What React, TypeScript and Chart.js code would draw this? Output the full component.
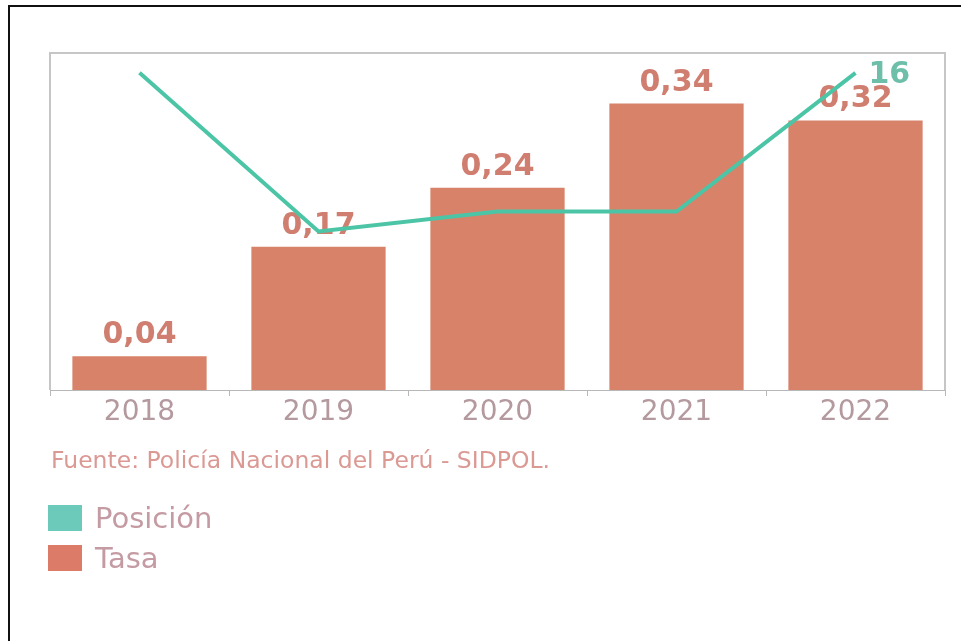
import React, { useEffect, useRef } from "react";
import { Chart, registerables } from "chart.js";

Chart.register(...registerables);

// ---- data ----
const years: string[] = ["2018", "2019", "2020", "2021", "2022"];
const tasa: number[] = [0.04, 0.17, 0.24, 0.34, 0.32];
const posicion: number[] = [16, 8, 9, 9, 16];
const posicionLabelled: number[] = [4]; // only the last point carries a label
const seriesNames: string[] = ["Posición", "Tasa"];
const sourceText = "Fuente: Policía Nacional del Perú - SIDPOL.";

const FONT = "'DejaVu Sans', 'Liberation Sans', Arial, sans-serif";

const fmt = (v: number) => v.toFixed(2).replace(".", ",");

const decorPlugin = {
  id: "decor",
  beforeDatasetsDraw(chart: any) {
    const { ctx, chartArea: a } = chart;
    ctx.save();
    ctx.strokeStyle = "#c6c6c6";
    ctx.lineWidth = 2;
    ctx.beginPath();
    ctx.moveTo(a.left, a.bottom);
    ctx.lineTo(a.left, a.top);
    ctx.lineTo(a.right, a.top);
    ctx.lineTo(a.right, a.bottom);
    ctx.stroke();
    ctx.restore();
  },
  afterDatasetDraw(chart: any, args: any) {
    if (args.index !== 1) return;
    const { ctx } = chart;
    const meta = chart.getDatasetMeta(1);
    ctx.save();
    ctx.font = `bold 30px ${FONT}`;
    ctx.fillStyle = "#d07e70";
    ctx.textAlign = "center";
    ctx.textBaseline = "alphabetic";
    meta.data.forEach((el: any, i: number) => {
      ctx.fillText(fmt(tasa[i]), el.x, el.y - 13);
    });
    ctx.restore();
  },
  afterDatasetsDraw(chart: any) {
    const { ctx } = chart;
    const meta = chart.getDatasetMeta(0);
    ctx.save();
    ctx.font = `bold 30px ${FONT}`;
    ctx.fillStyle = "#6dbfa9";
    ctx.textAlign = "left";
    ctx.textBaseline = "alphabetic";
    posicionLabelled.forEach((i) => {
      const el = meta.data[i];
      ctx.fillText(String(posicion[i]), el.x + 13, el.y + 10);
    });
    ctx.restore();
  },
  afterDraw(chart: any) {
    const { ctx, chartArea: a } = chart;
    ctx.save();
    // source note
    ctx.font = `23.5px ${FONT}`;
    ctx.fillStyle = "#db9994";
    ctx.textAlign = "left";
    ctx.textBaseline = "alphabetic";
    ctx.fillText(sourceText, a.left + 1, 468);
    // legend
    const ds = chart.data.datasets;
    ctx.font = `29px ${FONT}`;
    ds.forEach((d: any, i: number) => {
      const top = 505 + i * 40;
      ctx.fillStyle = d.legendColor || d.backgroundColor;
      ctx.fillRect(48, top, 34, 26);
      ctx.fillStyle = "#c59ba3";
      ctx.fillText(d.label, 95, top + 23);
    });
    ctx.restore();
  },
};

export default function App() {
  const ref = useRef<HTMLCanvasElement | null>(null);

  useEffect(() => {
    if (!ref.current) return;
    const chart = new Chart(ref.current, {
      type: "bar",
      data: {
        labels: years,
        datasets: [
          {
            type: "line",
            label: seriesNames[0],
            data: posicion,
            yAxisID: "y1",
            borderColor: "#4cc5a6",
            backgroundColor: "#6ccabb",
            borderWidth: 4,
            pointRadius: 0,
            tension: 0,
            order: 0,
          } as any,
          {
            type: "bar",
            label: seriesNames[1],
            data: tasa,
            yAxisID: "y",
            backgroundColor: "#d8826a",
            legendColor: "#dc7c68",
            barPercentage: 0.75,
            categoryPercentage: 1,
            order: 1,
          } as any,
        ],
      },
      options: {
        responsive: false,
        animation: false,
        devicePixelRatio: 1,
        layout: { padding: { left: 50, right: 16, top: 53, bottom: 221 } },
        plugins: {
          legend: { display: false },
          tooltip: { enabled: false },
        },
        scales: {
          x: {
            grid: {
              display: true,
              drawOnChartArea: false,
              drawTicks: true,
              tickLength: 6,
              color: "#b8b8b8",
              offset: true,
            },
            border: { display: true, color: "#b8b8b8", width: 1 },
            ticks: {
              color: "#b4999e",
              font: { family: FONT, size: 28, lineHeight: 1.2 },
              padding: 0,
              maxRotation: 0,
              autoSkip: false,
            },
            afterFit: (s: any) => {
              s.height = 30;
            },
          },
          y: { display: false, min: 0, max: 0.4 },
          y1: { display: false, min: 0, max: 17 },
        },
      } as any,
      plugins: [decorPlugin],
    });
    return () => chart.destroy();
  }, []);

  return (
    <div>
      <div
        style={{
          position: "fixed",
          left: 8,
          top: 5,
          right: 0,
          bottom: 0,
          borderLeft: "2px solid #111",
          borderTop: "2px solid #111",
        }}
      />
      <canvas
        ref={ref}
        width={961}
        height={641}
        style={{ position: "fixed", left: 0, top: 0, width: 961, height: 641 }}
      />
    </div>
  );
}
